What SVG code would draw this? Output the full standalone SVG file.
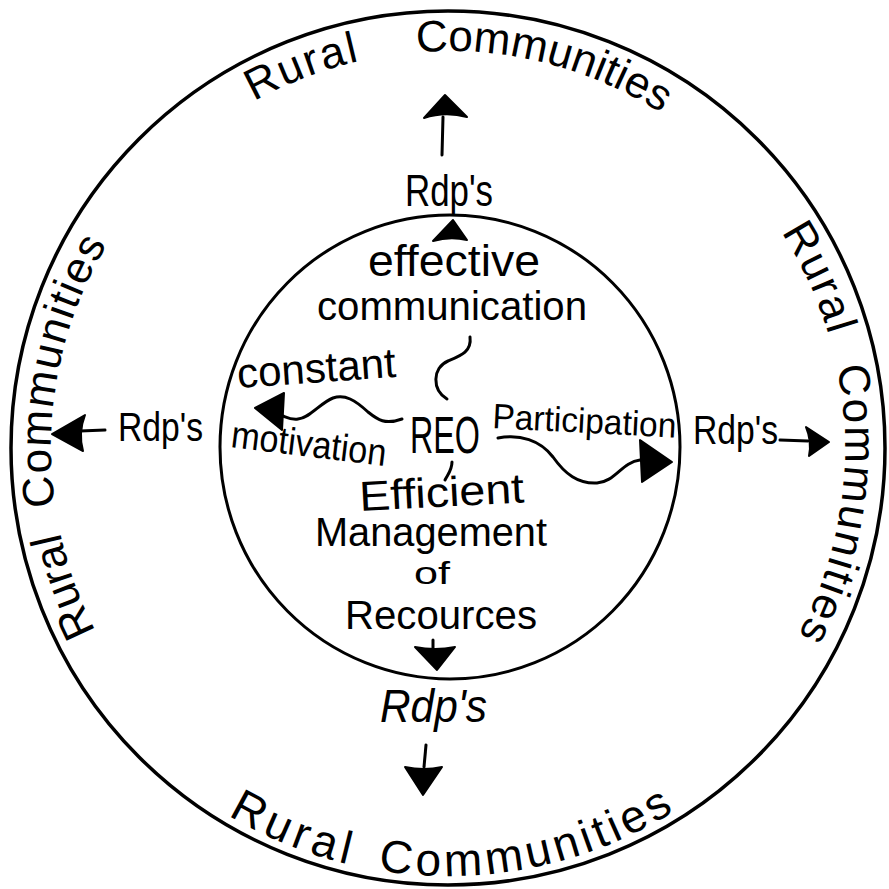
<svg xmlns="http://www.w3.org/2000/svg" xmlns:xlink="http://www.w3.org/1999/xlink" width="889" height="889" viewBox="0 0 889 889">
<style>
  .t{font-family:"Liberation Sans","DejaVu Sans",sans-serif;fill:#000;}
  .ring{font-family:"Liberation Sans","DejaVu Sans",sans-serif;font-size:44px;fill:#000;}
  .ln{fill:none;stroke:#000;stroke-width:3;stroke-linecap:round;stroke-linejoin:round;}
  .hd{fill:#000;stroke:#000;stroke-width:2;stroke-linejoin:round;}
</style>
<defs>
  <path id="ring" d="M448,845 A397,397 0 0 1 448,51 A397,397 0 0 1 448,845"/>
  <path id="ringB" d="M77.3,662 A428,428 0 0 0 818.7,662"/>
</defs>
<rect width="889" height="889" fill="#fff"/>

<g id="outer-circle">
  <circle cx="448" cy="448" r="437" fill="none" stroke="#000" stroke-width="3.5"/>
  <text class="ring"><textPath xlink:href="#ring" startOffset="433">Rural</textPath></text>
  <text class="ring" style="letter-spacing:1.5px"><textPath xlink:href="#ring" startOffset="565">Communities</textPath></text>
  <text class="ring" style="letter-spacing:2px"><textPath xlink:href="#ring" startOffset="1044">Rural</textPath></text>
  <text class="ring"><textPath xlink:href="#ring" startOffset="1215">Communities</textPath></text>
  <text class="ring" style="letter-spacing:2px"><textPath xlink:href="#ring" startOffset="1642">Rural</textPath></text>
  <text class="ring" style="letter-spacing:2px"><textPath xlink:href="#ring" startOffset="1788">Communities</textPath></text>
  <text class="ring" style="font-size:46px;letter-spacing:5px"><textPath xlink:href="#ringB" startOffset="217">Rural</textPath></text>
  <text class="ring" style="font-size:46px;letter-spacing:4px"><textPath xlink:href="#ringB" startOffset="378">Communities</textPath></text>
</g>

<g id="inner-circle">
  <ellipse cx="450" cy="447" rx="230" ry="232" fill="none" stroke="#000" stroke-width="3"/>
</g>

<g id="rdp-top"><text class="t" x="405" y="206" font-size="44" textLength="88" lengthAdjust="spacingAndGlyphs">Rdp's</text></g>
<g id="rdp-left"><text class="t" x="118" y="441" font-size="40" textLength="85" lengthAdjust="spacingAndGlyphs">Rdp's</text></g>
<g id="rdp-right"><text class="t" x="693" y="444" font-size="40" textLength="85" lengthAdjust="spacingAndGlyphs">Rdp's</text></g>
<g id="rdp-bottom"><text class="t" x="380" y="722" font-size="46" font-style="italic" textLength="107" lengthAdjust="spacingAndGlyphs">Rdp's</text></g>

<g id="reo"><text class="t" x="410" y="453" font-size="52" textLength="70" lengthAdjust="spacingAndGlyphs">REO</text></g>

<g id="effective-communication">
  <text class="t" x="368" y="276" font-size="44" textLength="172" lengthAdjust="spacingAndGlyphs">effective</text>
  <text class="t" x="317" y="320" font-size="40" textLength="270" lengthAdjust="spacingAndGlyphs">communication</text>
</g>

<g id="constant-motivation">
  <text class="t" x="238" y="388" font-size="42" textLength="159" lengthAdjust="spacingAndGlyphs" transform="rotate(-4 238 388)">constant</text>
  <text class="t" x="230" y="447" font-size="38" textLength="156" lengthAdjust="spacingAndGlyphs" transform="rotate(7 230 447)">motivation</text>
</g>

<g id="participation">
  <text class="t" x="492" y="428" font-size="35" textLength="184" lengthAdjust="spacingAndGlyphs" transform="rotate(3 492 428)">Participation</text>
</g>

<g id="efficient-management">
  <text class="t" x="360" y="511" font-size="42" textLength="165" lengthAdjust="spacingAndGlyphs" transform="rotate(-3 360 511)">Efficient</text>
  <text class="t" x="315" y="546" font-size="40" textLength="232" lengthAdjust="spacingAndGlyphs">Management</text>
  <text class="t" x="414" y="584" font-size="32" textLength="36" lengthAdjust="spacingAndGlyphs">of</text>
  <text class="t" x="345" y="629" font-size="40" textLength="192" lengthAdjust="spacingAndGlyphs">Recources</text>
</g>

<g id="connectors">
  <path class="ln" d="M442,155 L443,117"/>
  <path class="hd" d="M445,95 L467,117 Q445,111 424,118 Z"/>
  <path class="hd" d="M453,220 L467,240 Q450,236 433,241 Z"/>
  <path class="ln" d="M433,640 L433,648"/>
  <path class="hd" d="M437,670 L415,647 Q435,651 455,647 Z"/>
  <path class="ln" d="M426,745 L424,767"/>
  <path class="hd" d="M423,795 L405,767 Q424,771 442,767 Z"/>
  <path class="ln" d="M105,430 L80,431"/>
  <path class="hd" d="M52,434 L85,415 Q78,433 83,451 Z"/>
  <path class="ln" d="M780,440 L808,441"/>
  <path class="hd" d="M829,442 L806,427 Q812,441 809,456 Z"/>
  <path class="ln" d="M402,419 C385,425 378,420 368,412 C355,400 345,394 333,398 C320,403 310,418 298,419 C292,420 288,418 283,416"/>
  <path class="hd" d="M255,408 L284,393 L282,430 Z"/>
  <path class="ln" d="M498,438 C520,434 540,440 553,457 C565,474 578,484 597,483 C615,482 622,462 640,460"/>
  <path class="hd" d="M672,462 L640,440 L642,482 Z"/>
  <path class="ln" d="M470,337 C472,352 460,356 448,361 C432,368 432,390 447,399"/>
  <path class="ln" d="M452,462 C452,470 448,474 445,480"/>
</g>
</svg>
